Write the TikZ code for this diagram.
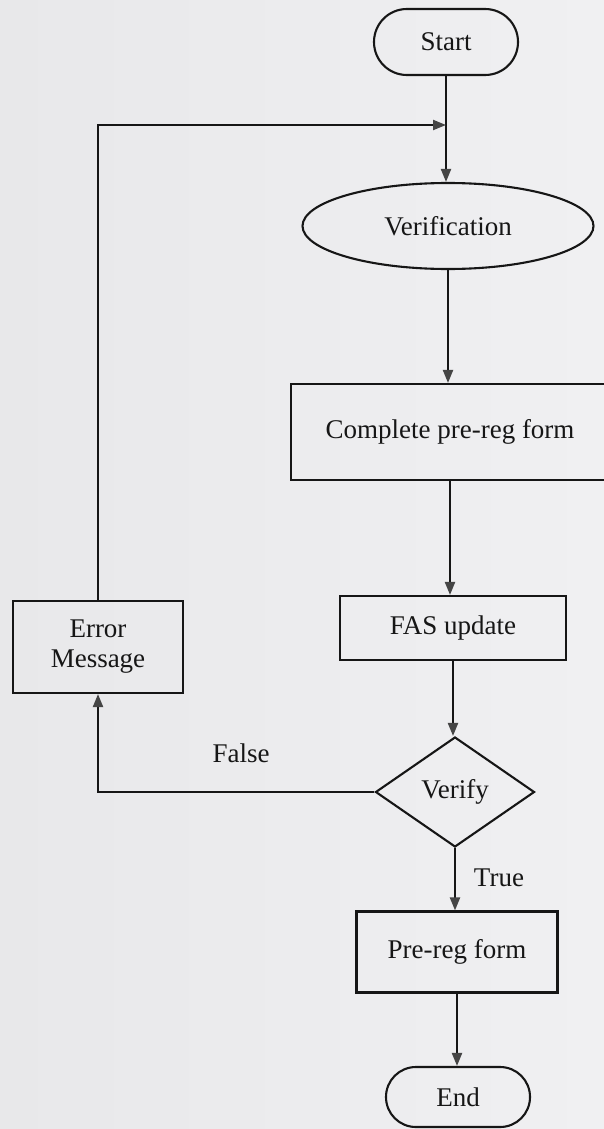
\documentclass[tikz,border=0pt]{standalone}
\usepackage{fontspec}
\setmainfont{Liberation Serif}
\usetikzlibrary{shapes.geometric,arrows.meta}

\definecolor{paper}{HTML}{F0F0F2}
\definecolor{paperdark}{HTML}{E8E8EA}
\definecolor{ink}{HTML}{161616}
\definecolor{tipgray}{HTML}{454545}

\tikzset{
  every node/.style={font=\fontsize{27}{30}\selectfont, text=ink},
  box/.style={draw=ink, line width=2.1pt, rectangle, inner sep=0pt, align=center},
  terminal/.style={box, rounded corners=#1},
  oval/.style={draw=ink, line width=2.1pt, ellipse, inner sep=0pt},
  decision/.style={draw=ink, line width=2.1pt, diamond, inner sep=0pt},
  flow/.style={draw=ink, line width=2.1pt,
    -{Triangle[length=13pt,width=10pt,fill=tipgray,color=tipgray]}},
  tag/.style={inner sep=0pt}
}

\begin{document}
\begin{tikzpicture}[x=1pt,y=-1pt]
  \useasboundingbox (0,0) rectangle (604,1129);
  \clip (0,0) rectangle (604,1129);
  \shade[left color=paperdark, right color=paper] (0,0) rectangle (604,1129);

  % process steps
  \node[terminal=32.9pt, minimum width=144pt, minimum height=66pt] (start) at (446,42) {Start};
  \node[oval, minimum width=291pt, minimum height=86pt] (verif) at (448,226) {Verification};
  \node[box, minimum width=318pt, minimum height=96pt] (comp) at (450,432) {Complete pre-reg form};
  \node[box, minimum width=226pt, minimum height=64pt] (fas) at (453,628) {FAS update};
  \node[box, minimum width=170pt, minimum height=92pt] (err) at (98,647) {Error\\Message};
  \node[decision, minimum width=159pt, minimum height=110pt] (check) at (455,792) {Verify};
  \node[box, minimum width=201pt, minimum height=81pt] (pre) at (457,952) {Pre-reg form};
  \node[terminal=29.9pt, minimum width=144pt, minimum height=60pt] (end) at (458,1097) {End};

  % branch labels
  \node[tag] (lfalse) at (241,753) {False};
  \node[tag] (ltrue) at (499,878) {True};

  % junction where the retry loop rejoins the main flow
  \coordinate (merge) at (start.south |- 0,125);

  % connectors
  \draw[flow] (start.south) -- (start.south |- verif.north);
  \draw[flow] (err.north) |- (merge);
  \draw[flow] (verif.south) -- (verif.south |- comp.north);
  \draw[flow] (comp.south) -- (comp.south |- fas.north);
  \draw[flow] (fas.south) -- (fas.south |- check.north);
  \draw[flow] (check.west) -| (err.south);
  \draw[flow] (check.south) -- (check.south |- pre.north);
  \draw[flow] (pre.south) -- (pre.south |- end.north);
\end{tikzpicture}
\end{document}
